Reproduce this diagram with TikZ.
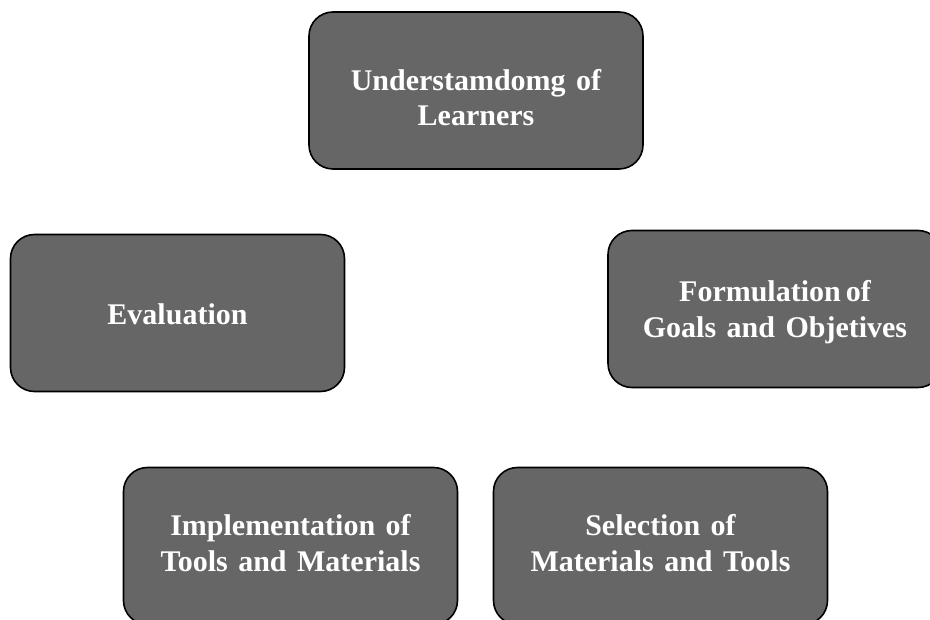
\documentclass[tikz,border=0pt]{standalone}
\usepackage{fontspec}
\setmainfont{Liberation Serif}[WordSpace=1.4]
\begin{document}
\definecolor{boxgray}{RGB}{102,102,102}
\tikzset{
  stagebox/.style={
    draw=black, line width=1.6pt, fill=boxgray, rounded corners=24pt,
    rectangle, minimum width=334pt, minimum height=157pt, inner sep=0pt
  },
  stagetext/.style={
    text=white, align=center, inner sep=0pt,
    font=\fontsize{30}{35.5}\selectfont\bfseries
  }
}
\begin{tikzpicture}[x=1pt,y=-1pt]
  \useasboundingbox (0,0) rectangle (930,620);
  \begin{scope}
    \clip (0,0) rectangle (930,620);
    % stage boxes
    \node[stagebox] (learners) at (476,90.5)  {};
    \node[stagebox] (eval)     at (177.5,313) {};
    \node[stagebox] (goals)    at (775,309)   {};
    \node[stagebox] (impl)     at (290.5,546) {};
    \node[stagebox] (select)   at (660.5,546) {};
    % stage captions
    \node[stagetext] (learners-t) at ([yshift=-7pt]learners.center) {Understamdomg of\\Learners};
    \node[stagetext] (eval-t)     at ([yshift=-1pt]eval.center)     {Evaluation};
    \node[stagetext] (goals-t)    at ([yshift=-3pt]goals.center)    {Formulation\hspace{5pt}of\\Goals and Objetives};
    \node[stagetext] (impl-t)     at ([yshift=3pt]impl.center)      {Implementation of\\Tools and Materials};
    \node[stagetext] (select-t)   at ([yshift=3pt]select.center)    {Selection of\\Materials and Tools};
  \end{scope}
\end{tikzpicture}
\end{document}
